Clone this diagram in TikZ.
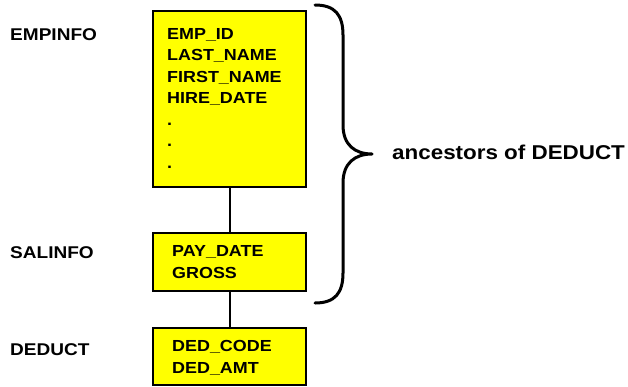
\documentclass[tikz,border=0pt]{standalone}
\usepackage{fontspec}
\setmainfont{Liberation Sans}[FakeStretch=1.12]
\definecolor{tablefill}{HTML}{FFFF00}
\begin{document}
\begin{tikzpicture}[x=1pt,y=-1pt,
  table/.style={draw=black, line width=2pt, fill=tablefill, minimum width=153pt, inner sep=0pt, anchor=north west},
  field/.style={anchor=base west, align=left, inner sep=0pt, font=\bfseries\fontsize{16}{21.5}\selectfont},
  tname/.style={anchor=base west, inner sep=0pt, font=\bfseries\fontsize{17}{20}\selectfont},
  link/.style={line width=2pt},
  brace/.style={line width=3pt, line cap=round, line join=round}]
\useasboundingbox (0,0) rectangle (628,386);

% table boxes
\node[table, minimum height=176pt] (emp) at (152,10) {};
\node[table, minimum height=58pt]  (sal) at (152,232) {};
\node[table, minimum height=57pt]  (ded) at (152,327) {};

% links between parent and child tables
\draw[link] (emp.south) -- (sal.north);
\draw[link] (sal.south) -- (ded.north);

% column lists (anchored on the baseline of the last line)
\node[field] (empf) at (167,168) {EMP\_ID\\LAST\_NAME\\FIRST\_NAME\\HIRE\_DATE\\.\\.\\.};
\node[field] (salf) at (172,278) {PAY\_DATE\\GROSS};
\node[field] (dedf) at (172,373) {DED\_CODE\\DED\_AMT};

% table names
\node[tname] (empn) at (10,40) {EMPINFO};
\node[tname] (saln) at (10,258) {SALINFO};
\node[tname] (dedn) at (10,355) {DEDUCT};

% brace over the ancestor tables
\draw[brace] (315,5) .. controls (335,5) and (343,15) .. (343,35) -- (343,125)
  .. controls (343,145) and (355,154) .. (372,154) coordinate (tip)
  .. controls (355,154) and (343,163) .. (343,183) -- (343,273)
  .. controls (343,293) and (335,303) .. (315,303);
\node[anchor=base west, inner sep=0pt, font=\bfseries\fontsize{20}{24}\selectfont] (anc) at (392,159) {ancestors of DEDUCT};
\end{tikzpicture}
\end{document}
